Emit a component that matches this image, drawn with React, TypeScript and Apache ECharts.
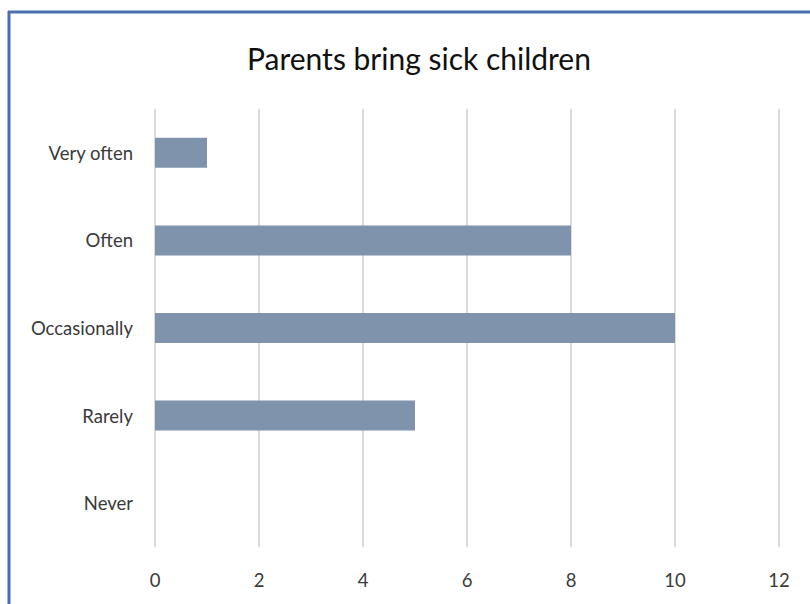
import React, { useEffect, useRef } from "react";
import * as echarts from "echarts";

const categories = ["Very often", "Often", "Occasionally", "Rarely", "Never"];
const counts = [1, 8, 10, 5, 0];
const xTicks = { min: 0, max: 12, interval: 2 };

export default function App() {
  const ref = useRef<HTMLDivElement>(null);

  useEffect(() => {
    if (!ref.current) return;
    const chart = echarts.init(ref.current, undefined, { renderer: "svg" });
    const font = "Lato, 'Open Sans', sans-serif";
    chart.setOption({
      animation: false,
      backgroundColor: "#ffffff",
      title: {
        text: "Parents bring sick children",
        left: 242,
        top: 38,
        textStyle: { fontFamily: font, fontSize: 30, fontWeight: "normal", color: "#111111" },
      },
      graphic: [
        {
          type: "line",
          shape: { x1: 8, y1: 12, x2: 810, y2: 12 },
          style: { stroke: "#4a6fb0", lineWidth: 3 },
        },
        {
          type: "line",
          shape: { x1: 9, y1: 11, x2: 9, y2: 604 },
          style: { stroke: "#4a6fb0", lineWidth: 3 },
        },
      ],
      grid: { left: 155, right: 31, top: 109, bottom: 57 },
      xAxis: {
        type: "value",
        min: xTicks.min,
        max: xTicks.max,
        interval: xTicks.interval,
        axisLine: { show: false },
        axisTick: { show: false },
        splitLine: { show: true, lineStyle: { color: "#dcdcdc", width: 2 } },
        axisLabel: { margin: 23, fontFamily: font, fontSize: 18.5, color: "#3a3a3a" },
      },
      yAxis: {
        type: "category",
        data: categories,
        inverse: true,
        axisLine: { show: false },
        axisTick: { show: false },
        axisLabel: { margin: 22, fontFamily: font, fontSize: 18.5, color: "#3a3a3a" },
      },
      series: [
        {
          type: "bar",
          data: counts,
          barWidth: 30,
          itemStyle: { color: "#7f93ad" },
        },
      ],
    });
    return () => chart.dispose();
  }, []);

  return (
    <div
      ref={ref}
      style={{ position: "fixed", left: 0, top: 0, width: 810, height: 604, background: "#fff" }}
    />
  );
}
